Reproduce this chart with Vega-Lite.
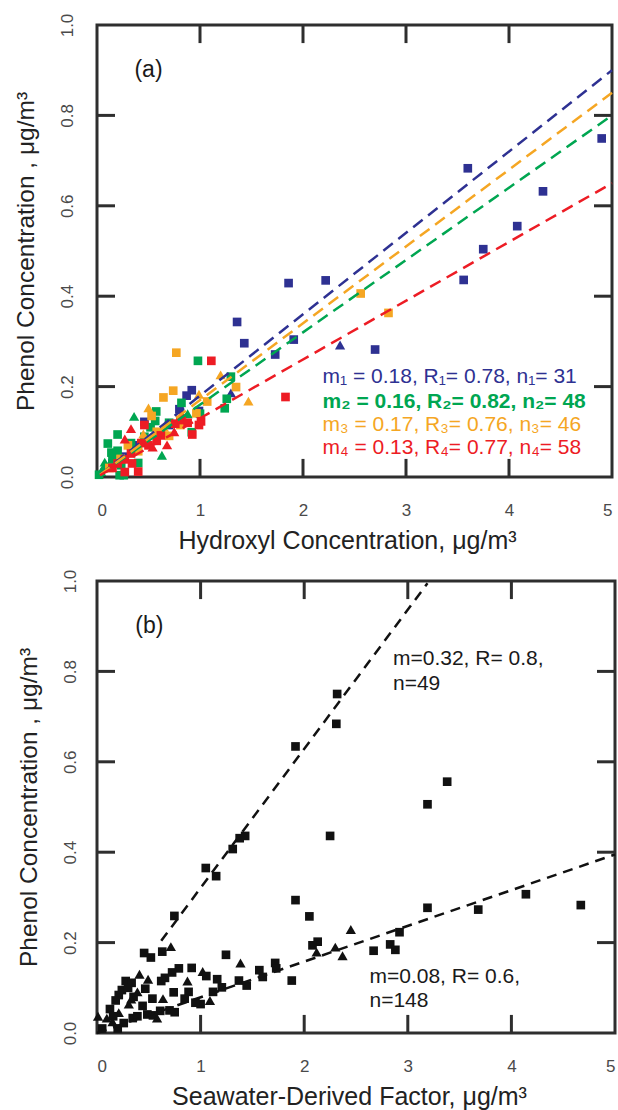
{
  "$schema": "https://vega.github.io/schema/vega-lite/v6.json",
  "background": "white",
  "padding": {"left": 11, "top": 11, "right": 4, "bottom": 2},
  "spacing": 12,
  "datasets": {
    "xt": [{"v":1},{"v":2},{"v":3},{"v":4}],
    "yt": [{"v":0.2},{"v":0.4},{"v":0.6},{"v":0.8}]
  },
  "config": {
    "font": "Liberation Sans",
    "view": {"stroke": "#2e2e2e", "strokeWidth": 3},
    "axis": {"grid": false, "domain": false, "ticks": false, "labelFont": "Liberation Sans", "labelFontSize": 17, "labelColor": "#4a4a4a", "titleFont": "Liberation Sans", "titleFontSize": 25, "titleFontWeight": "normal", "titleColor": "#222222"},
    "rule": {"strokeWidth": 3, "color": "#2e2e2e", "opacity": 1},
    "text": {"font": "Liberation Sans"}
  },
  "vconcat": [
    {
      "width": 515,
      "height": 452,
      "layer": [
        {
          "data": {"values": [
            {"s":1,"k":"sq","x":4.90,"y":0.749},{"s":1,"k":"sq","x":3.60,"y":0.683},{"s":1,"k":"sq","x":4.33,"y":0.632},{"s":1,"k":"sq","x":4.08,"y":0.555},{"s":1,"k":"sq","x":3.75,"y":0.504},{"s":1,"k":"sq","x":3.56,"y":0.436},{"s":1,"k":"sq","x":1.86,"y":0.429},{"s":1,"k":"sq","x":2.22,"y":0.435},{"s":1,"k":"sq","x":1.36,"y":0.343},{"s":1,"k":"sq","x":1.43,"y":0.296},{"s":1,"k":"sq","x":1.91,"y":0.304},{"s":1,"k":"sq","x":1.73,"y":0.271},{"s":1,"k":"sq","x":2.70,"y":0.282},{"s":1,"k":"tri","x":2.36,"y":0.292},{"s":1,"k":"tri","x":1.30,"y":0.186},{"s":1,"k":"sq","x":0.92,"y":0.192},{"s":1,"k":"sq","x":0.87,"y":0.180},{"s":1,"k":"sq","x":0.99,"y":0.146},{"s":1,"k":"sq","x":0.46,"y":0.122},{"s":1,"k":"sq","x":0.58,"y":0.098},{"s":1,"k":"sq","x":0.35,"y":0.070},{"s":1,"k":"sq","x":0.25,"y":0.045},{"s":1,"k":"sq","x":0.70,"y":0.115},{"s":1,"k":"sq","x":0.15,"y":0.030},{"s":1,"k":"sq","x":0.80,"y":0.150},
            {"s":2,"k":"sq","x":0.98,"y":0.257},{"s":2,"k":"sq","x":1.30,"y":0.222},{"s":2,"k":"sq","x":1.26,"y":0.173},{"s":2,"k":"sq","x":1.24,"y":0.152},{"s":2,"k":"sq","x":0.82,"y":0.164},{"s":2,"k":"sq","x":0.575,"y":0.145},{"s":2,"k":"sq","x":0.565,"y":0.124},{"s":2,"k":"tri","x":0.36,"y":0.134},{"s":2,"k":"sq","x":0.20,"y":0.094},{"s":2,"k":"sq","x":0.105,"y":0.074},{"s":2,"k":"sq","x":0.14,"y":0.054},{"s":2,"k":"sq","x":0.33,"y":0.075},{"s":2,"k":"sq","x":0.40,"y":0.031},{"s":2,"k":"tri","x":0.63,"y":0.048},{"s":2,"k":"sq","x":0.26,"y":0.004},{"s":2,"k":"sq","x":0.22,"y":0.004},{"s":2,"k":"tri","x":0.075,"y":0.033},{"s":2,"k":"sq","x":0.09,"y":0.022},{"s":2,"k":"tri","x":0.04,"y":0.012},{"s":2,"k":"sq","x":0.92,"y":0.099},{"s":2,"k":"sq","x":0.20,"y":0.058},{"s":2,"k":"sq","x":0.235,"y":0.026},{"s":2,"k":"sq","x":0.46,"y":0.089},{"s":2,"k":"sq","x":0.02,"y":0.005},{"s":2,"k":"tri","x":0.06,"y":0.02},{"s":2,"k":"sq","x":0.70,"y":0.12},{"s":2,"k":"sq","x":1.00,"y":0.14},{"s":2,"k":"sq","x":0.15,"y":0.04},{"s":2,"k":"sq","x":0.52,"y":0.11},{"s":2,"k":"tri","x":0.88,"y":0.14},
            {"s":3,"k":"sq","x":2.56,"y":0.406},{"s":3,"k":"sq","x":2.83,"y":0.363},{"s":3,"k":"sq","x":0.77,"y":0.275},{"s":3,"k":"tri","x":1.20,"y":0.226},{"s":3,"k":"sq","x":1.35,"y":0.199},{"s":3,"k":"tri","x":1.47,"y":0.168},{"s":3,"k":"sq","x":0.645,"y":0.176},{"s":3,"k":"sq","x":0.74,"y":0.191},{"s":3,"k":"tri","x":0.99,"y":0.183},{"s":3,"k":"sq","x":1.07,"y":0.167},{"s":3,"k":"tri","x":0.50,"y":0.153},{"s":3,"k":"sq","x":0.53,"y":0.135},{"s":3,"k":"sq","x":0.965,"y":0.141},{"s":3,"k":"tri","x":0.65,"y":0.110},{"s":3,"k":"sq","x":0.70,"y":0.091},{"s":3,"k":"sq","x":0.81,"y":0.115},{"s":3,"k":"sq","x":0.40,"y":0.057},{"s":3,"k":"sq","x":0.23,"y":0.040},{"s":3,"k":"sq","x":0.30,"y":0.070},{"s":3,"k":"tri","x":0.45,"y":0.095},{"s":3,"k":"sq","x":0.58,"y":0.100},{"s":3,"k":"sq","x":0.12,"y":0.020},{"s":3,"k":"tri","x":0.85,"y":0.125},
            {"s":4,"k":"sq","x":1.11,"y":0.257},{"s":4,"k":"sq","x":1.83,"y":0.177},{"s":4,"k":"tri","x":0.82,"y":0.139},{"s":4,"k":"sq","x":0.81,"y":0.126},{"s":4,"k":"sq","x":1.01,"y":0.123},{"s":4,"k":"sq","x":0.99,"y":0.115},{"s":4,"k":"sq","x":0.925,"y":0.094},{"s":4,"k":"sq","x":0.46,"y":0.115},{"s":4,"k":"tri","x":0.68,"y":0.071},{"s":4,"k":"sq","x":0.62,"y":0.092},{"s":4,"k":"tri","x":0.33,"y":0.107},{"s":4,"k":"tri","x":0.27,"y":0.084},{"s":4,"k":"sq","x":0.43,"y":0.075},{"s":4,"k":"tri","x":0.54,"y":0.066},{"s":4,"k":"sq","x":0.50,"y":0.070},{"s":4,"k":"sq","x":0.33,"y":0.052},{"s":4,"k":"sq","x":0.34,"y":0.030},{"s":4,"k":"sq","x":0.27,"y":0.039},{"s":4,"k":"sq","x":0.88,"y":0.120},{"s":4,"k":"sq","x":0.76,"y":0.118},{"s":4,"k":"sq","x":0.27,"y":0.011},{"s":4,"k":"sq","x":0.40,"y":0.012},{"s":4,"k":"sq","x":0.20,"y":0.030},{"s":4,"k":"sq","x":0.58,"y":0.080},{"s":4,"k":"tri","x":0.75,"y":0.10},{"s":4,"k":"sq","x":0.15,"y":0.02}
          ]},
          "mark": {"type": "point", "filled": true, "opacity": 1},
          "encoding": {
            "x": {"field": "x", "type": "quantitative", "scale": {"domain": [0, 5], "nice": false, "zero": false}, "axis": {"orient": "bottom", "values": [0, 1, 2, 3, 4, 5], "format": "d", "labelPadding": 25, "title": "Hydroxyl Concentration, μg/m³", "titlePadding": 10, "titleX": 250}},
            "y": {"field": "y", "type": "quantitative", "scale": {"domain": [0, 1], "nice": false}, "axis": {"orient": "left", "values": [0, 0.2, 0.4, 0.6, 0.8, 1], "format": ".1f", "labelAngle": 270, "labelAlign": "center", "labelBaseline": "alphabetic", "labelPadding": 25, "title": "Phenol Concentration ,  μg/m³", "titleFontSize": 24.5, "titlePadding": 20}},
            "color": {"field": "s", "type": "nominal", "scale": {"domain": [1, 2, 3, 4], "range": ["#2e3192", "#00a651", "#f5a623", "#ed1c24"]}, "legend": null},
            "shape": {"field": "k", "type": "nominal", "scale": {"domain": ["sq", "tri"], "range": ["square", "triangle-up"]}, "legend": null},
            "size": {"field": "k", "type": "nominal", "scale": {"domain": ["sq", "tri"], "range": [75, 105]}, "legend": null}
          }
        },
        {
          "data": {"values": [
            {"s":1,"x":0.03,"y":0.0054},{"s":1,"x":5,"y":0.90},
            {"s":2,"x":0.03,"y":0.0048},{"s":2,"x":5,"y":0.80},
            {"s":3,"x":0.03,"y":0.0051},{"s":3,"x":5,"y":0.85},
            {"s":4,"x":0.03,"y":0.0039},{"s":4,"x":5,"y":0.65}
          ]},
          "mark": {"type": "line", "strokeDash": [12, 7], "strokeWidth": 2.5},
          "encoding": {
            "x": {"field": "x", "type": "quantitative"},
            "y": {"field": "y", "type": "quantitative"},
            "color": {"field": "s", "type": "nominal", "legend": null}
          }
        },
        {
          "data": {"name": "xt"},
          "mark": {"type": "rule"},
          "encoding": {"x": {"field": "v", "type": "quantitative"}, "y": {"datum": 0, "type": "quantitative"}, "y2": {"datum": 0.04}}
        },
        {
          "data": {"name": "xt"},
          "mark": {"type": "rule"},
          "encoding": {"x": {"field": "v", "type": "quantitative"}, "y": {"datum": 0.96, "type": "quantitative"}, "y2": {"datum": 1}}
        },
        {
          "data": {"name": "yt"},
          "mark": {"type": "rule"},
          "encoding": {"y": {"field": "v", "type": "quantitative"}, "x": {"datum": 0, "type": "quantitative"}, "x2": {"datum": 0.175}}
        },
        {
          "data": {"name": "yt"},
          "mark": {"type": "rule"},
          "encoding": {"y": {"field": "v", "type": "quantitative"}, "x": {"datum": 4.825, "type": "quantitative"}, "x2": {"datum": 5}}
        },
        {
          "data": {"values": [
            {"s":1,"x":2.19,"y":0.2216,"t":"m₁ = 0.18, R₁= 0.78, n₁= 31"},
            {"s":2,"x":2.19,"y":0.166,"t":"m₂ = 0.16, R₂= 0.82, n₂= 48"},
            {"s":3,"x":2.19,"y":0.115,"t":"m₃ = 0.17, R₃= 0.76, n₃= 46"},
            {"s":4,"x":2.19,"y":0.0636,"t":"m₄ = 0.13, R₄= 0.77, n₄= 58"}
          ]},
          "transform": [{"filter": "datum.s != 2"}],
          "mark": {"type": "text", "align": "left", "baseline": "middle", "fontSize": 21},
          "encoding": {
            "x": {"field": "x", "type": "quantitative"},
            "y": {"field": "y", "type": "quantitative"},
            "text": {"field": "t"},
            "color": {"field": "s", "type": "nominal", "legend": null}
          }
        },
        {
          "data": {"values": [
            {"s":2,"x":2.19,"y":0.166,"t":"m₂ = 0.16, R₂= 0.82, n₂= 48"}
          ]},
          "mark": {"type": "text", "align": "left", "baseline": "middle", "fontSize": 21, "fontWeight": "bold"},
          "encoding": {
            "x": {"field": "x", "type": "quantitative"},
            "y": {"field": "y", "type": "quantitative"},
            "text": {"field": "t"},
            "color": {"field": "s", "type": "nominal", "legend": null}
          }
        },
        {
          "data": {"values": [{"x":0.5,"y":0.901,"t":"(a)"}]},
          "mark": {"type": "text", "align": "center", "baseline": "middle", "fontSize": 23, "color": "#1a1a1a"},
          "encoding": {
            "x": {"field": "x", "type": "quantitative"},
            "y": {"field": "y", "type": "quantitative"},
            "text": {"field": "t"}
          }
        }
      ]
    },
    {
      "width": 518,
      "height": 452,
      "layer": [
        {
          "data": {"values": [
            {"k":"sq","x":2.318,"y":0.750},{"k":"sq","x":2.31,"y":0.684},{"k":"sq","x":1.916,"y":0.634},{"k":"sq","x":3.38,"y":0.556},{"k":"sq","x":3.19,"y":0.506},{"k":"sq","x":2.25,"y":0.436},{"k":"sq","x":1.43,"y":0.436},{"k":"sq","x":1.377,"y":0.431},{"k":"sq","x":1.31,"y":0.407},{"k":"sq","x":1.05,"y":0.365},{"k":"sq","x":1.15,"y":0.347},{"k":"sq","x":1.916,"y":0.294},{"k":"sq","x":0.747,"y":0.259},{"k":"sq","x":2.05,"y":0.258},{"k":"sq","x":3.19,"y":0.277},{"k":"sq","x":4.14,"y":0.307},{"k":"sq","x":4.67,"y":0.283},{"k":"sq","x":3.68,"y":0.273},{"k":"sq","x":2.92,"y":0.223},{"k":"tri","x":2.45,"y":0.229},{"k":"sq","x":2.83,"y":0.196},{"k":"sq","x":2.88,"y":0.184},{"k":"sq","x":2.67,"y":0.182},{"k":"tri","x":2.30,"y":0.190},{"k":"tri","x":2.37,"y":0.171},{"k":"sq","x":2.13,"y":0.202},{"k":"sq","x":2.08,"y":0.194},{"k":"tri","x":2.12,"y":0.179},{"k":"sq","x":1.88,"y":0.116},{"k":"sq","x":1.72,"y":0.155},{"k":"sq","x":1.73,"y":0.143},{"k":"sq","x":1.567,"y":0.139},{"k":"sq","x":1.60,"y":0.124},{"k":"tri","x":1.385,"y":0.155},{"k":"sq","x":1.37,"y":0.116},{"k":"sq","x":1.445,"y":0.105},{"k":"sq","x":1.245,"y":0.173},{"k":"sq","x":1.16,"y":0.119},{"k":"sq","x":1.205,"y":0.101},{"k":"sq","x":1.12,"y":0.091},{"k":"tri","x":1.09,"y":0.072},{"k":"sq","x":1.0,"y":0.064},{"k":"sq","x":0.95,"y":0.067},{"k":"sq","x":0.914,"y":0.144},{"k":"tri","x":1.02,"y":0.136},{"k":"sq","x":1.055,"y":0.126},{"k":"tri","x":0.873,"y":0.115},{"k":"sq","x":0.884,"y":0.091},{"k":"sq","x":0.846,"y":0.076},{"k":"sq","x":0.79,"y":0.143},{"k":"sq","x":0.725,"y":0.134},{"k":"sq","x":0.656,"y":0.122},{"k":"sq","x":0.62,"y":0.115},{"k":"sq","x":0.74,"y":0.090},{"k":"sq","x":0.70,"y":0.050},{"k":"sq","x":0.75,"y":0.046},{"k":"sq","x":0.61,"y":0.049},{"k":"tri","x":0.713,"y":0.191},{"k":"sq","x":0.63,"y":0.180},{"k":"sq","x":0.52,"y":0.167},{"k":"sq","x":0.455,"y":0.177},{"k":"tri","x":0.637,"y":0.076},{"k":"sq","x":0.535,"y":0.076},{"k":"tri","x":0.493,"y":0.119},{"k":"tri","x":0.41,"y":0.130},{"k":"sq","x":0.466,"y":0.098},{"k":"tri","x":0.39,"y":0.091},{"k":"sq","x":0.353,"y":0.080},{"k":"tri","x":0.307,"y":0.064},{"k":"sq","x":0.277,"y":0.115},{"k":"sq","x":0.334,"y":0.111},{"k":"sq","x":0.24,"y":0.095},{"k":"sq","x":0.21,"y":0.084},{"k":"sq","x":0.18,"y":0.072},{"k":"sq","x":0.125,"y":0.053},{"k":"tri","x":0.21,"y":0.045},{"k":"sq","x":0.156,"y":0.037},{"k":"tri","x":0.095,"y":0.033},{"k":"sq","x":0.258,"y":0.022},{"k":"sq","x":0.345,"y":0.033},{"k":"sq","x":0.39,"y":0.037},{"k":"sq","x":0.486,"y":0.041},{"k":"sq","x":0.54,"y":0.039},{"k":"tri","x":0.58,"y":0.033},{"k":"tri","x":0.01,"y":0.037},{"k":"sq","x":0.05,"y":0.010},{"k":"sq","x":0.2,"y":0.010},{"k":"tri","x":0.33,"y":0.075},{"k":"tri","x":0.15,"y":0.025},{"k":"sq","x":0.30,"y":0.100},{"k":"sq","x":0.44,"y":0.060}
          ]},
          "mark": {"type": "point", "filled": true, "opacity": 1, "color": "#111111"},
          "encoding": {
            "x": {"field": "x", "type": "quantitative", "scale": {"domain": [0, 5], "nice": false, "zero": false}, "axis": {"orient": "bottom", "values": [0, 1, 2, 3, 4, 5], "format": "d", "labelPadding": 25, "title": "Seawater-Derived Factor,  μg/m³", "titlePadding": 10, "titleX": 252}},
            "y": {"field": "y", "type": "quantitative", "scale": {"domain": [0, 1], "nice": false}, "axis": {"orient": "left", "values": [0, 0.2, 0.4, 0.6, 0.8, 1], "format": ".1f", "labelAngle": 270, "labelAlign": "center", "labelBaseline": "alphabetic", "labelPadding": 21.6, "title": "Phenol Concentration ,  μg/m³", "titleFontSize": 24.5, "titlePadding": 20}},
            "shape": {"field": "k", "type": "nominal", "scale": {"domain": ["sq", "tri"], "range": ["square", "triangle-up"]}, "legend": null},
            "size": {"field": "k", "type": "nominal", "scale": {"domain": ["sq", "tri"], "range": [75, 105]}, "legend": null}
          }
        },
        {
          "data": {"values": [
            {"g":"u","x":0.62,"y":0.204},{"g":"u","x":3.19,"y":0.995},
            {"g":"l","x":0.0,"y":0.0},{"g":"l","x":5.0,"y":0.395}
          ]},
          "mark": {"type": "line", "strokeDash": [10, 7], "strokeWidth": 2.5, "color": "#111111"},
          "encoding": {
            "x": {"field": "x", "type": "quantitative"},
            "y": {"field": "y", "type": "quantitative"},
            "detail": {"field": "g"}
          }
        },
        {
          "data": {"name": "xt"},
          "mark": {"type": "rule"},
          "encoding": {"x": {"field": "v", "type": "quantitative"}, "y": {"datum": 0, "type": "quantitative"}, "y2": {"datum": 0.04}}
        },
        {
          "data": {"name": "xt"},
          "mark": {"type": "rule"},
          "encoding": {"x": {"field": "v", "type": "quantitative"}, "y": {"datum": 0.96, "type": "quantitative"}, "y2": {"datum": 1}}
        },
        {
          "data": {"name": "yt"},
          "mark": {"type": "rule"},
          "encoding": {"y": {"field": "v", "type": "quantitative"}, "x": {"datum": 0, "type": "quantitative"}, "x2": {"datum": 0.174}}
        },
        {
          "data": {"name": "yt"},
          "mark": {"type": "rule"},
          "encoding": {"y": {"field": "v", "type": "quantitative"}, "x": {"datum": 4.826, "type": "quantitative"}, "x2": {"datum": 5}}
        },
        {
          "data": {"values": [
            {"x":2.857,"y":0.827,"t":"m=0.32, R= 0.8,"},
            {"x":2.857,"y":0.773,"t":"n=49"},
            {"x":2.63,"y":0.124,"t":"m=0.08, R= 0.6,"},
            {"x":2.63,"y":0.0697,"t":"n=148"}
          ]},
          "mark": {"type": "text", "align": "left", "baseline": "middle", "fontSize": 21, "color": "#1a1a1a"},
          "encoding": {
            "x": {"field": "x", "type": "quantitative"},
            "y": {"field": "y", "type": "quantitative"},
            "text": {"field": "t"}
          }
        },
        {
          "data": {"values": [{"x":0.505,"y":0.901,"t":"(b)"}]},
          "mark": {"type": "text", "align": "center", "baseline": "middle", "fontSize": 23, "color": "#1a1a1a"},
          "encoding": {
            "x": {"field": "x", "type": "quantitative"},
            "y": {"field": "y", "type": "quantitative"},
            "text": {"field": "t"}
          }
        }
      ]
    }
  ]
}
